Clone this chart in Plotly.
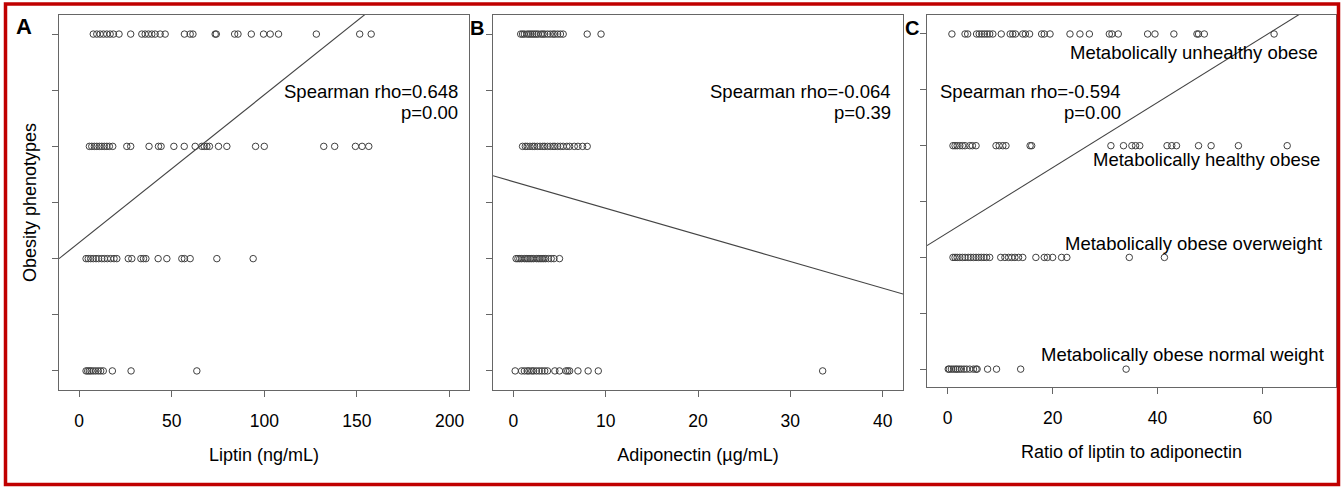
import plotly.graph_objects as go

# ---------------- data ----------------
levels = [1, 2, 3, 4]  # normal weight, obese overweight, healthy obese, unhealthy obese
category_labels = ["Metabolically obese normal weight", "Metabolically obese overweight",
                   "Metabolically healthy obese", "Metabolically unhealthy obese"]

leptin_mown = [3.8, 4.7, 5.6, 6.5, 7.7, 9.0, 10.4, 11.7, 13.1, 18.0, 28.1, 63.6]
leptin_moow = [3.8, 5.0, 6.3, 7.7, 9.2, 10.6, 12.3, 13.7, 15.3, 17.1, 18.9, 20.4, 26.6, 28.5,
               33.4, 34.8, 36.1, 42.7, 47.4, 55.5, 56.9, 60.0, 74.4, 94.0]
leptin_mho = [5.6, 6.9, 8.3, 9.6, 11.0, 12.3, 13.7, 15.0, 16.4, 18.2, 25.8, 27.9, 37.8, 42.9,
              44.3, 51.2, 56.8, 62.7, 66.3, 67.6, 69.0, 70.4, 75.3, 79.8, 95.3, 100.0, 132.1,
              138.0, 149.2, 152.8, 156.4]
leptin_muo = [7.7, 9.6, 11.4, 13.2, 15.0, 16.8, 18.6, 21.6, 27.9, 33.9, 35.7, 37.5, 39.3, 41.1,
              43.8, 46.5, 56.9, 60.0, 61.5, 73.5, 74.1, 84.0, 85.8, 93.0, 99.6, 103.2, 107.7,
              128.1, 151.5, 157.7]

adipo_mown = [0.2, 0.9, 1.2, 1.5, 1.7, 2.0, 2.2, 2.5, 2.8, 3.1, 3.4, 3.7, 4.5, 5.0, 5.7, 5.9,
              6.1, 7.0, 8.1, 9.2, 33.5]
adipo_moow = [0.3, 0.5, 0.7, 0.9, 1.2, 1.4, 1.6, 1.8, 2.0, 2.2, 2.5, 2.7, 2.9, 3.1, 3.3, 3.5,
              3.8, 4.1, 4.4, 5.0]
adipo_mho = [1.0, 1.3, 1.5, 1.8, 2.1, 2.3, 2.6, 2.9, 3.2, 3.4, 3.7, 4.0, 4.3, 4.5, 4.8, 5.1,
             5.4, 5.8, 6.1, 6.6, 7.0, 7.5, 8.0]
adipo_muo = [0.8, 1.0, 1.2, 1.5, 1.7, 1.9, 2.1, 2.3, 2.5, 2.7, 3.0, 3.2, 3.4, 3.7, 4.0, 4.3,
             4.5, 4.8, 5.1, 5.4, 8.0, 9.5]

ratio_mown = [0.1, 0.3, 0.7, 1.1, 1.5, 1.8, 2.2, 2.6, 3.1, 3.6, 4.2, 4.9, 5.4, 5.6, 7.6, 9.3,
              13.9, 34.0]
ratio_moow = [1.0, 1.4, 1.8, 2.3, 2.8, 3.3, 3.9, 4.4, 4.9, 5.4, 5.9, 6.4, 6.9, 7.4, 8.0, 10.1,
              10.9, 11.6, 12.2, 12.8, 13.5, 14.3, 16.8, 18.4, 19.0, 20.0, 21.7, 22.7, 34.6, 41.3]
ratio_mho = [1.0, 1.4, 1.8, 2.3, 2.8, 3.3, 4.2, 4.7, 5.4, 9.2, 9.8, 10.5, 11.1, 15.7, 16.0,
             31.1, 33.5, 35.1, 35.8, 36.6, 41.8, 42.7, 43.6, 47.8, 50.2, 55.4, 64.7]
ratio_muo = [0.8, 3.3, 3.8, 5.5, 6.0, 6.5, 7.0, 7.5, 8.0, 8.6, 10.2, 11.9, 12.4, 12.9, 14.3,
             14.8, 15.6, 17.9, 18.4, 19.5, 23.3, 25.2, 27.0, 30.8, 31.3, 32.5, 38.1, 39.5, 43.1,
             47.5, 47.8, 48.9, 62.2]

# fitted line: intercept, slope
fit_intercept = [2.142, 2.686, 2.221]
fit_slope = [0.01317, -0.02372, 0.02917]

x_titles = ["Liptin (ng/mL)", "Adiponectin (\u00b5g/mL)", "Ratio of liptin to adiponectin"]
x_tickvals = [[0, 50, 100, 150, 200], [0, 10, 20, 30, 40], [0, 20, 40, 60]]
rho_text = ["Spearman rho=0.648", "Spearman rho=-0.064", "Spearman rho=-0.594"]
p_text = ["p=0.00", "p=0.39", "p=0.00"]
panel_letters = ["A", "B", "C"]

# ---------------- layout helpers ----------------
W, H = 1343, 488
FONT = "Arial, Liberation Sans, sans-serif"
x_ranges = [[-10.8, 210.5], [-2.2, 42.2], [-3.95, 74.0]]
y_ranges = [[0.83, 4.17], [0.83, 4.17], [0.84, 4.17]]
px_x = [(59, 469), (493, 903), (927, 1336)]
px_y = [(15, 390), (15, 390), (15, 387)]

def xp(p):
    return p / W

def yp(p):
    return 1 - p / H

fig = go.Figure()

panels = [
    [leptin_mown, leptin_moow, leptin_mho, leptin_muo],
    [adipo_mown, adipo_moow, adipo_mho, adipo_muo],
    [ratio_mown, ratio_moow, ratio_mho, ratio_muo],
]

for i, rows in enumerate(panels):
    xa = "x" if i == 0 else f"x{i+1}"
    ya = "y" if i == 0 else f"y{i+1}"
    for lvl, vals in zip(levels, rows):
        fig.add_trace(go.Scatter(
            x=vals, y=[lvl] * len(vals), mode="markers", xaxis=xa, yaxis=ya,
            marker=dict(symbol="circle-open", size=6.5, color="#404040",
                        line=dict(width=1, color="#404040")),
            showlegend=False, hoverinfo="x+y"))
    lx = x_ranges[i]
    fig.add_trace(go.Scatter(
        x=lx, y=[fit_intercept[i] + fit_slope[i] * v for v in lx], mode="lines",
        xaxis=xa, yaxis=ya, line=dict(color="#444444", width=1.1),
        showlegend=False, hoverinfo="skip"))

axis_common = dict(showline=True, mirror=True, linecolor="#666666", linewidth=1.3,
                   showgrid=False, zeroline=False, ticks="outside", ticklen=6,
                   tickcolor="#666666", tickwidth=1.2)

layout = dict(width=W, height=H, autosize=False,
              margin=dict(l=0, r=0, t=0, b=0),
              paper_bgcolor="white", plot_bgcolor="white",
              font=dict(family=FONT, color="black", size=17))

for i in range(3):
    xk = "xaxis" if i == 0 else f"xaxis{i+1}"
    yk = "yaxis" if i == 0 else f"yaxis{i+1}"
    yanchor = "y" if i == 0 else f"y{i+1}"
    xanchor = "x" if i == 0 else f"x{i+1}"
    layout[xk] = dict(axis_common, domain=[xp(px_x[i][0]), xp(px_x[i][1])],
                      range=x_ranges[i], anchor=yanchor, tickvals=x_tickvals[i],
                      tickfont=dict(size=17.5, family=FONT, color="black"),
                      ticklabelstandoff=9,
                      title=dict(text=x_titles[i], font=dict(size=18, family=FONT, color="black"),
                                 standoff=18))
    ydict = dict(axis_common, domain=[yp(px_y[i][1]), yp(px_y[i][0])],
                 range=y_ranges[i], anchor=xanchor,
                 tickvals=[1, 1.5, 2, 2.5, 3, 3.5, 4], showticklabels=False)
    if i == 0:
        ydict["title"] = dict(text="Obesity phenotypes",
                              font=dict(size=18, family=FONT, color="black"), standoff=10)
    layout[yk] = ydict

fig.update_layout(**layout)

annotations = []
letter_pos = [(24, 27), (477, 28), (912, 28)]
letter_size = [22, 20, 20]
for i in range(3):
    annotations.append(dict(text="<b>%s</b>" % panel_letters[i], xref="paper", yref="paper",
                            x=xp(letter_pos[i][0]), y=yp(letter_pos[i][1]), showarrow=False,
                            xanchor="center", yanchor="middle",
                            font=dict(size=letter_size[i], family=FONT, color="black")))

rho_right = [460, 893, 1123]
for i in range(3):
    annotations.append(dict(text=rho_text[i], xref="paper", yref="paper",
                            x=xp(rho_right[i]), y=yp(91), showarrow=False,
                            xanchor="right", yanchor="middle",
                            font=dict(size=18.5, family=FONT, color="black")))
    annotations.append(dict(text=p_text[i], xref="paper", yref="paper",
                            x=xp(rho_right[i]), y=yp(112), showarrow=False,
                            xanchor="right", yanchor="middle",
                            font=dict(size=18.5, family=FONT, color="black")))

cat_pos = [(1326, 354), (1324, 243), (1322, 160), (1320, 52)]
for lab, (cx, cy) in zip(category_labels, cat_pos):
    annotations.append(dict(text=lab, xref="paper", yref="paper",
                            x=xp(cx), y=yp(cy), showarrow=False,
                            xanchor="right", yanchor="middle",
                            font=dict(size=18.5, family=FONT, color="black")))

fig.update_layout(annotations=annotations)

fig.add_shape(type="rect", xref="paper", yref="paper",
              x0=xp(5.5), x1=xp(1338.5), y0=yp(484.5), y1=yp(4),
              line=dict(color="#c00000", width=3.5), fillcolor="rgba(0,0,0,0)")

fig.write_html("out.html", config={"displayModeBar": False},
               post_script="document.body.style.margin='0';document.body.style.overflow='hidden';")
